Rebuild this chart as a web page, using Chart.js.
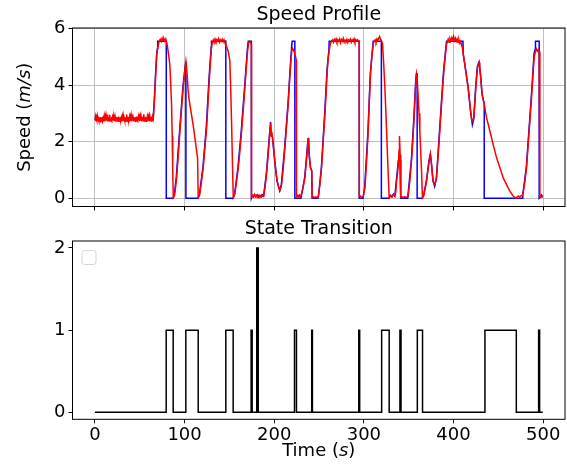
<!DOCTYPE html>
<html lang="en">
<head>
  <meta charset="UTF-8" />
  <title>Speed Profile / State Transition</title>
  <script src="https://cdn.jsdelivr.net/npm/chart.js"></script>
  <style>
    body { margin: 0; background: #fff; }
    .wrap { position: relative; width: 567px; height: 465px; }
    canvas { position: absolute; left: 0; display: block; }
    #speedChart { top: 0; }
    #stateChart { top: 215px; }
  </style>
</head>
<body>
  <div class="wrap">
    <canvas id="speedChart" width="567" height="215"></canvas>
    <canvas id="stateChart" width="567" height="250"></canvas>
  </div>

  <script>
    // shared x ticks (seconds)
    const timeTicks = [0, 100, 200, 300, 400, 500];
    const speedTicks = [0, 2, 4, 6];
    const stateTicks = [0, 1, 2];

    // measured speed [t, m/s]
    const redSamples = [
      [0,2.76],[0.5,2.87],[1,2.73],[1.5,2.85],[2,2.78],[2.5,2.89],[3,2.72],[3.5,2.84],[4,2.75],[4.5,2.88],
      [5,2.74],[5.5,2.86],[6,2.71],[6.5,2.87],[7,2.77],[7.5,2.85],[8,2.73],[8.5,2.89],[9,2.76],[9.5,2.84],
      [10,2.72],[10.5,2.88],[11,2.75],[11.5,2.86],[12,2.73],[12.5,2.9],[13,2.76],[13.5,2.96],[14,2.72],[14.5,2.86],
      [15,2.74],[15.5,2.88],[16,2.77],[16.5,2.95],[17,2.73],[17.5,2.86],[18,2.75],[18.5,2.87],[19,2.72],[19.5,2.85],
      [20,2.76],[20.5,2.89],[21,2.73],[21.5,2.84],[22,2.75],[22.5,2.88],[23,2.71],[23.5,2.86],[24,2.77],[24.5,2.87],
      [25,2.74],[25.5,2.85],[26,2.72],[26.5,2.89],[27,2.76],[27.5,2.86],[28,2.73],[28.5,2.88],[29,2.75],[29.5,2.84],
      [30,2.72],[30.5,2.87],[31,2.76],[31.5,2.89],[32,2.73],[32.5,2.85],[33,2.75],[33.5,2.88],[34,2.72],[34.5,2.86],
      [35,2.76],[35.5,2.96],[36,2.74],[36.5,2.87],[37,2.71],[37.5,2.85],[38,2.77],[38.5,2.88],[39,2.73],[39.5,2.86],
      [40,2.75],[40.5,2.89],[41,2.72],[41.5,2.84],[42,2.76],[42.5,2.87],[43,2.73],[43.5,2.88],[44,2.75],[44.5,2.85],
      [45,2.72],[45.5,2.87],[46,2.77],[46.5,2.89],[47,2.74],[47.5,2.86],[48,2.72],[48.5,2.88],[49,2.76],[49.5,2.85],
      [50,2.73],[50.5,2.87],[51,2.75],[51.5,2.89],[52,2.72],[52.5,2.86],[53,2.76],[53.5,2.88],[54,2.74],[54.5,2.97],
      [55,2.73],[55.5,2.85],[56,2.75],[56.5,2.88],[57,2.72],[57.5,2.86],[58,2.77],[58.5,2.89],[59,2.73],[59.5,2.85],
      [60,2.75],[60.5,2.87],[61,2.72],[61.5,2.88],[62,2.76],[62.5,2.86],[63,2.73],[63.5,2.89],[64,2.75],[64.5,2.85],
      [65,2.80],
      [66.5,3.5],[68,4.5],[69,5.1],[70,5.3],[71,5.45],[72,5.58],
      [73,5.62],[74,5.55],[75,5.66],[76,5.58],[77,5.64],[78,5.56],[79,5.63],[80,5.52],
      [81,5.35],[82.5,5.0],[83.6,4.7],[84.5,4.1],[85.5,3.3],[86.2,2.2],[86.8,1.0],[87.4,0.03],
      [88.8,0.1],[90,0.4],[91.1,0.72],[93,1.55],[94.8,2.38],[96.7,3.2],[98.5,3.92],[100,4.45],[101.5,4.84],
      [102.3,4.6],[103,4.3],[104,3.8],[105,3.5],[107.5,3.0],[110,2.5],[112.5,1.9],[114.5,1.43],[115.2,0.03],
      [116.7,0.1],[118.5,0.5],[120.8,1.08],[122.7,1.8],[124.6,2.5],[126,3.3],[127.5,4.15],[129,4.9],[130,5.34],[131,5.52],
      [132,5.6],[133,5.5],[134,5.63],[135,5.54],[136,5.61],[137,5.56],[138,5.64],[139,5.52],[140,5.6],
      [141,5.55],[142,5.62],[143,5.53],[144,5.6],[145,5.5],[146,5.45],
      [147,5.35],[148.7,5.2],[150.5,4.86],[151.5,3.8],[152.4,2.73],[153.6,0.96],[154.3,0.03],
      [156,0.15],[158,0.6],[159.9,1.08],[161.8,1.7],[163.6,2.38],[165.5,3.15],[167.3,3.92],[169,4.7],
      [170.3,5.22],[171.5,5.5],[172.5,5.55],[173.5,5.5],[174.5,5.45],[174.7,0.05],
      [176,0.1],[177,0.05],[178,0.12],[179,0.06],[180,0.1],[181,0.04],[182,0.11],[183,0.06],
      [184,0.1],[185,0.05],[186,0.12],[187,0.07],[188.3,0.08],
      [189.8,0.4],[191.4,0.84],[193,1.45],[194.4,2.02],[195.4,2.5],[196,2.67],[196.6,2.2],[197.3,2.35],
      [198.1,2.14],[199.4,1.75],[200.7,1.31],[202,0.9],[203.3,0.6],[204.8,0.4],[206.3,0.27],[207.3,0.35],
      [208.2,0.49],[210,1.05],[211.9,1.79],[213.7,2.55],[215.6,3.33],[217,4.1],[218.6,4.86],[219.5,5.2],
      [220.5,5.3],[221.5,5.25],[222.5,5.15],[223.5,5.05],[224.5,4.9],[224.8,0.05],
      [226,0.1],[227,0.05],[228,0.12],[229,0.06],[230,0.1],
      [232,0.35],[234.2,0.72],[236,1.35],[237.9,2.08],[238.4,2.12],[239,1.55],[240.5,1.08],[241.9,0.96],[242.3,0.02],
      [243.5,0.05],[245,0.02],[246.5,0.05],[248,0.02],[249,0.05],
      [251,0.5],[252.8,1.08],[254.6,2.0],[256.5,2.97],[258,3.8],[259.1,4.51],[260.2,4.95],[261.3,5.22],[262.5,5.45],[263.7,5.55],
      [265,5.6],[266,5.52],[267,5.62],[268,5.56],[269,5.64],[270,5.53],[271,5.6],[272,5.55],[273,5.63],[274,5.5],
      [275,5.61],[276,5.56],[277,5.65],[278,5.52],[279,5.59],[280,5.55],[281,5.62],[282,5.51],[283,5.6],[284,5.57],
      [285,5.63],[286,5.52],[287,5.6],[288,5.55],[289,5.64],[290,5.53],[291,5.61],[292,5.56],[293,5.6],[294,5.54],
      [294.8,5.55],[294.9,0.05],
      [296,0.08],[297.5,0.03],[299.2,0.06],
      [301.1,0.37],[303,1.3],[304.8,2.38],[306,3.4],[307.4,4.39],[308.8,5.0],[310.4,5.46],[311.5,5.55],
      [312.5,5.6],[313.5,5.52],[314.5,5.63],[315.5,5.57],[316.5,5.65],[317.5,5.72],[318.5,5.62],[319.5,5.58],[320.8,5.46],
      [322,4.8],[323.4,3.92],[324.7,2.9],[326,1.79],[327.2,0.8],[328.2,0.03],
      [330,0.1],[331.5,0.05],[333,0.14],[334.5,0.08],[335.5,0.2],
      [336.4,0.6],[337.6,0.9],[338.6,1.31],[339.2,1.7],[339.7,2.2],[340.4,1.55],[341,1.2],[341.1,0.03],
      [342.5,0.05],[344,0.02],[345.5,0.06],[347,0.03],[348.5,0.05],
      [349.4,0.1],[351.2,0.6],[353.1,1.31],[354.5,2.0],[355.8,2.73],[357,3.5],[358,4.15],[358.7,4.39],
      [359.5,4.2],[360.6,3.56],[361.5,3.0],[362.4,2.38],[363.3,1.7],[364.3,0.96],[365.3,0.03],
      [366.9,0.1],[368.4,0.35],[369.9,0.6],[371.3,0.95],[372.8,1.31],[374.3,1.55],[375.5,1.2],[376.4,0.85],
      [377.3,0.6],[379.1,0.49],[381,0.72],[382.9,1.55],[384.8,2.45],[386.6,3.33],[388,4.0],[389.2,4.51],
      [390.7,5.0],[392.2,5.46],[393.3,5.55],
      [394,5.62],[395,5.52],[396,5.65],[397,5.58],[398,5.68],[399,5.6],[400,5.72],[401,5.58],[402,5.66],
      [403,5.55],[404,5.63],[405,5.52],[406,5.6],[407,5.48],[408,5.55],[409,5.4],[410,5.3],
      [410.8,5.1],[412.6,4.74],[414.5,4.3],[416.3,3.92],[417.7,3.5],[419,3.09],[420,2.8],[421.2,2.73],
      [422.7,2.85],[423.8,3.4],[424.9,3.92],[426,4.4],[426.8,4.63],[427.7,4.75],[428.6,4.8],[429.3,4.6],
      [430.1,4.39],[431,4.0],[431.9,3.68],[433,3.5],[434.2,3.33],
      [436.8,2.85],[440.5,2.38],[444.2,1.9],[448,1.43],[451.7,1.08],[455.4,0.72],[459,0.49],[462.8,0.25],
      [466.5,0.08],[470,0.0],
      [471,0.05],[472.5,0.08],[474,0.05],[475.5,0.1],[477,0.1],
      [479.2,0.5],[481.4,1.08],[483.2,1.9],[485.1,2.73],[486.4,3.3],[487.7,3.92],[489,4.6],[490,5.0],
      [491.4,5.2],[492.5,5.28],[493.5,5.2],[494.5,5.25],[495.5,5.2],[496.2,5.1],[496.4,0.05],
      [497.5,0.08],[498.5,0.04],[499.5,0.06]
    ];

    // commanded speed [t, m/s]
    const blueSamples = [
      [0,2.8],[65,2.8],[66.3,3.5],[67.8,4.5],[69,5.15],[69.8,5.3],[70,5.55],[79.6,5.55],[79.6,0],[87.2,0],
      [88.5,0.12],[90.8,0.75],[94.5,2.4],[98.2,3.95],[101.4,4.84],[101.5,0],[115.1,0],
      [116.5,0.12],[120.5,1.1],[124.3,2.55],[127.2,4.2],[129.7,5.35],[130,5.55],[146,5.55],[146,0],[154.2,0],
      [155.8,0.15],[159.6,1.1],[163.3,2.4],[167,3.95],[170,5.25],[171,5.55],[174.5,5.55],[174.5,0],
      [175.5,0.08],[176.5,0.06],[178,0.14],[179.5,0.05],[181,0.12],[182.5,0.04],[184,0.1],[185.5,0.05],
      [187,0.12],[188.1,0.08],
      [191.2,0.86],[194.2,2.05],[195.9,2.7],[196.5,2.25],[198,2.17],[200.5,1.33],[203.1,0.62],[206.1,0.27],
      [208,0.5],[211.7,1.82],[215.4,3.36],[218.4,4.9],[219.8,5.5],[220,5.55],[223,5.55],[223,0],[229.8,0],
      [230.5,0.12],[234,0.74],[237.7,2.1],[238.2,2.14],[238.8,1.58],[240.3,1.1],[241.8,0.98],[242.3,0],[248.8,0],
      [249.5,0.1],[252.6,1.1],[256.3,3.0],[258.9,4.55],[261,5.25],[261.3,5.55],[294.8,5.55],[294.8,0],[299,0],
      [300.9,0.4],[304.6,2.4],[307.2,4.42],[310.2,5.48],[310.4,5.55],[319.5,5.55],[319.5,0],[328.2,0],
      [329.5,0.1],[331,0.05],[333,0.15],[334.5,0.08],[336.2,0.62],[338.4,1.33],[339.5,1.4],[340.3,1.35],
      [341,1.2],[341.1,0],[349,0],
      [349.2,0.12],[352.9,1.33],[355.6,2.76],[357.8,4.18],[358.6,4.4],[359.4,4.4],[359.4,0],[365.3,0],
      [366.7,0.12],[369.7,0.62],[372.6,1.33],[374.1,1.57],[375.3,1.22],[377.1,0.62],[378.9,0.42],[380.8,0.7],
      [382.7,1.57],[386.4,3.36],[389,4.55],[391.9,5.48],[392.2,5.55],[410.5,5.55],
      [410.8,5.1],[412.4,4.76],[416.1,3.95],[418.8,3.12],[421,2.6],[422.5,2.8],[424.7,3.95],[426.6,4.66],
      [428.4,4.82],[429.9,4.41],[431.7,3.7],[434.2,3.33],[434.2,0],[476.8,0],
      [477.2,0.12],[481.2,1.1],[484.9,2.76],[487.5,3.95],[489.8,5.12],[491.4,5.3],[491.4,5.55],[495.5,5.55],
      [495.5,0],[497,0.05],[498,0.12],[499.5,0.06]
    ];

    // state switches: time where the state starts, state value
    const stateTimes  = [0, 79.5, 87.3, 101.4, 115.2, 146, 154.2, 174.2, 175.4, 180.5, 182.2, 222.6, 224.8,
                         241.8, 242.6, 294.3, 295.3, 319.8, 328.2, 340.2, 341.4, 359.6, 365.4, 435, 470,
                         494.9, 496, 499.5];
    const stateValues = [0, 1, 0, 1, 0, 1, 0, 1, 0, 2, 0, 1, 0,
                         1, 0, 1, 0, 1, 0, 1, 0, 1, 0, 1, 0,
                         1, 0, 0];

    Chart.defaults.font.family = "'DejaVu Sans', sans-serif";
    Chart.defaults.font.size = 18;
    Chart.defaults.color = "#000";

    // box around the axes, mixed-style axis labels, empty legend frame
    const framePlugin = {
      id: "frame",
      afterDraw(chart, args, opts) {
        const { ctx, chartArea: a } = chart;
        ctx.save();
        if (opts.emptyLegend) {
          ctx.strokeStyle = "#d6d6d6";
          ctx.fillStyle = "rgba(255,255,255,0.8)";
          ctx.lineWidth = 1;
          ctx.beginPath();
          ctx.roundRect(a.left + 9.5, a.top + 9.5, 14, 14, 2.5);
          ctx.fill();
          ctx.stroke();
        }
        ctx.strokeStyle = "#000";
        ctx.lineWidth = 1;
        ctx.strokeRect(a.left, a.top, a.right - a.left, a.bottom - a.top);

        (opts.labels || []).forEach(lab => {
          const fontOf = it => (it ? "italic " : "") + "18px 'DejaVu Sans'";
          let total = 0;
          lab.parts.forEach(p => { ctx.font = fontOf(p[1]); total += ctx.measureText(p[0]).width; });
          ctx.save();
          if (lab.side === "left") {
            ctx.translate(lab.pos, (a.top + a.bottom) / 2);
            ctx.rotate(-Math.PI / 2);
          } else {
            ctx.translate((a.left + a.right) / 2, a.bottom + lab.pos);
          }
          ctx.fillStyle = "#000";
          ctx.textBaseline = "middle";
          ctx.textAlign = "left";
          let x = -total / 2;
          lab.parts.forEach(p => {
            ctx.font = fontOf(p[1]);
            ctx.fillText(p[0], x, 0);
            x += ctx.measureText(p[0]).width;
          });
          ctx.restore();
        });
        ctx.restore();
      }
    };

    const toPoints = arr => arr.map(p => ({ x: p[0], y: p[1] }));
    const setTicks = list => scale => { scale.ticks = list.map(v => ({ value: v })); };
    const fixX = h => s => { s.height = h; s.paddingLeft = 0; s.paddingRight = 0; };
    const fixY = s => { s.width = 72.5; s.paddingTop = 0; s.paddingBottom = 0; };

    new Chart(document.getElementById("speedChart"), {
      type: "line",
      data: {
        datasets: [
          { data: toPoints(redSamples), borderColor: "#ff0000", borderWidth: 1.5, pointRadius: 0, tension: 0 },
          { data: toPoints(blueSamples), borderColor: "#0000ff", borderWidth: 1.5, pointRadius: 0, tension: 0 }
        ]
      },
      options: {
        responsive: false,
        animation: false,
        layout: { padding: { left: 0, right: 2, top: 0, bottom: 0 } },
        plugins: {
          legend: { display: false },
          tooltip: { enabled: false },
          title: {
            display: true, text: "Speed Profile", fullSize: false,
            font: { size: 19, weight: "normal", lineHeight: 1.2 },
            padding: { top: 3.6, bottom: 1.6 }
          },
          frame: { labels: [{ side: "left", pos: 25, parts: [["Speed (", false], ["m/s", true], [")", false]] }] }
        },
        scales: {
          x: {
            type: "linear", min: -25, max: 524.3,
            afterBuildTicks: setTicks(timeTicks),
            afterFit: fixX(8.5),
            ticks: { display: false },
            grid: { color: "#b0b0b0", lineWidth: 0.8, tickColor: "#000", tickWidth: 1, tickLength: 4 },
            border: { display: false }
          },
          y: {
            min: -0.29, max: 6.02,
            afterBuildTicks: setTicks(speedTicks),
            afterFit: fixY,
            ticks: { padding: 3 },
            grid: { color: "#b0b0b0", lineWidth: 0.8, tickColor: "#000", tickWidth: 1, tickLength: 4 },
            border: { display: false }
          }
        }
      },
      plugins: [framePlugin]
    });

    new Chart(document.getElementById("stateChart"), {
      type: "line",
      data: {
        datasets: [{
          data: stateTimes.map((t, i) => ({ x: t, y: stateValues[i] })),
          borderColor: "#000", borderWidth: 1.5, pointRadius: 0, stepped: true
        }]
      },
      options: {
        responsive: false,
        animation: false,
        layout: { padding: { left: 0, right: 2, top: 0, bottom: 0 } },
        plugins: {
          legend: { display: false },
          tooltip: { enabled: false },
          title: {
            display: true, text: "State Transition", fullSize: false,
            font: { size: 19, weight: "normal", lineHeight: 1.2 },
            padding: { top: 3.1, bottom: 0.1 }
          },
          frame: {
            emptyLegend: true,
            labels: [{ side: "bottom", pos: 32.5, parts: [["Time (", false], ["s", true], [")", false]] }]
          }
        },
        scales: {
          x: {
            type: "linear", min: -25, max: 524.3,
            afterBuildTicks: setTicks(timeTicks),
            afterFit: fixX(45.7),
            ticks: { padding: 1, maxRotation: 0 },
            grid: { drawOnChartArea: false, tickColor: "#000", tickWidth: 1, tickLength: 4 },
            border: { display: false }
          },
          y: {
            min: -0.085, max: 2.085,
            afterBuildTicks: setTicks(stateTicks),
            afterFit: fixY,
            ticks: { padding: 3 },
            grid: { drawOnChartArea: false, tickColor: "#000", tickWidth: 1, tickLength: 4 },
            border: { display: false }
          }
        }
      },
      plugins: [framePlugin]
    });
  </script>
</body>
</html>
